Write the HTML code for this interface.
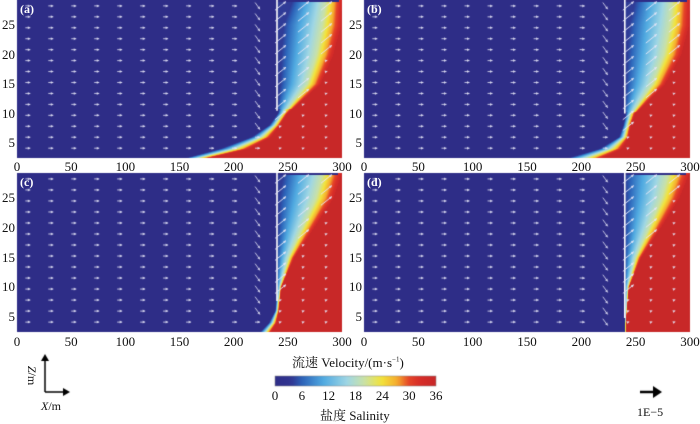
<!DOCTYPE html>
<html><head><meta charset="utf-8">
<style>
body{margin:0;background:#fff;width:700px;height:421px;overflow:hidden;position:relative;font-family:"Liberation Serif","Noto Serif CJK SC",serif;}
.t{position:absolute;font-size:12px;color:#111;white-space:nowrap;}
canvas{position:absolute;left:0;top:0;}
</style></head><body>
<canvas id="cv" width="700" height="421"></canvas>
<div id="labels"></div>
<script>
// ---- data ----
const panelNames=['a','b','c','d'];
const zLevelsAB=[2.5,4,6,8,10,15,20,25,29.5];
const freshA=[155,185,215,232,240,243,244,246,255];
const redA=[180,215,235,243,250,280,292,299,300];
const freshB=[186,215,234,238,240,241,242,244,250];
const redB=[221,238,244,246,250,277,292,299,300];
const zLevelsCD=[2.5,4,6,10,15,20,25,29.5];
const freshC=[224,232,238,240,240,241,242,246];
const redC=[235,240,242,244,256,274,292,300];
const freshD=[240,240,240,240,240,240,240,240];
const redD=[241,241,242,244,255,273,290,300];
const wallBottom=[10.5,10,7.7,4.8];
const xTicks=[0,50,100,150,200,250,300];
const yTicks=[5,10,15,20,25];
const cbTicks=[0,6,12,18,24,30,36];
// ---- layout ----
const panels=[
 {x0:17,x1:342,y0:0,y1:158,z:zLevelsAB,f:freshA,r:redA,lx:2},
 {x0:364,x1:690,y0:0,y1:158,z:zLevelsAB,f:freshB,r:redB,lx:349},
 {x0:17,x1:342,y0:173,y1:332,z:zLevelsCD,f:freshC,r:redC,lx:2},
 {x0:364,x1:690,y0:173,y1:332,z:zLevelsCD,f:freshD,r:redD,lx:349}];
const zMin=2.45,zMax=29.3;
const cmap=[[0,[46,45,135]],[0.1,[48,52,145]],[0.17,[45,100,185]],[0.3,[80,170,225]],[0.45,[160,215,228]],[0.55,[200,225,170]],[0.66,[242,228,60]],[0.76,[245,170,45]],[0.83,[230,70,40]],[0.9,[215,45,40]],[1,[200,40,40]]];
function col(s){const t=Math.max(0,Math.min(1,s/36));for(let i=1;i<cmap.length;i++){if(t<=cmap[i][0]){const a=cmap[i-1],b=cmap[i],u=(t-a[0])/(b[0]-a[0]);return a[1].map((v,k)=>Math.round(v+(b[1][k]-v)*u));}}return cmap[cmap.length-1][1];}
function interp(zs,vs,z){if(z<=zs[0])return vs[0];for(let i=1;i<zs.length;i++){if(z<=zs[i]){const u=(z-zs[i-1])/(zs[i]-zs[i-1]);return vs[i-1]+(vs[i]-vs[i-1])*u;}}return vs[vs.length-1];}
function sal(p,pi,x,z){const xf=interp(p.z,p.f,z),xr=interp(p.z,p.r,z);
 if(x>=xr)return 36;
 if(z>29.0&&x<xr-3)return 0;
 const upper=x>=240.5&&z>wallBottom[pi]+0.3;
 if(x<=xf)return upper?4:0;
 const t=(x-xf)/(xr-xf);
 if(upper){return t<0.68?4+t/0.68*16:20+(t-0.68)/0.32*14;}
 return 36*t;}
const cv=document.getElementById('cv'),ctx=cv.getContext('2d');
const img=ctx.createImageData(700,421);
for(let i=0;i<img.data.length;i+=4){img.data[i]=img.data[i+1]=img.data[i+2]=255;img.data[i+3]=255;}
panels.forEach((p,pi)=>{
 for(let py=p.y0;py<p.y1;py++){const z=zMax-(py+0.5-p.y0)/(p.y1-p.y0)*(zMax-zMin);
  for(let px=p.x0;px<p.x1;px++){const x=(px+0.5-p.x0)/(p.x1-p.x0)*300;
   const c=col(sal(p,pi,x,z));const k=(py*700+px)*4;img.data[k]=c[0];img.data[k+1]=c[1];img.data[k+2]=c[2];}}});
ctx.putImageData(img,0,0);
function X(p,x){return p.x0+x/300*(p.x1-p.x0);}
function Y(p,z){return p.y0+(zMax-z)/(zMax-zMin)*(p.y1-p.y0);}
panels.forEach((p,pi)=>{
 ctx.strokeStyle='#fff';ctx.lineWidth=1.6;ctx.beginPath();ctx.moveTo(X(p,240),p.y0);ctx.lineTo(X(p,240),Y(p,wallBottom[pi]));ctx.stroke();
 ctx.lineWidth=1;
 for(let i=0;i<14;i++){const x=10+21.2*i;
  for(let j=0;j<14;j++){const z=28.3-1.86*j;
   const s=sal(p,pi,x,z);let dx,dy,L,a=0.8;
   if(x<240){ if(x>200&&z>wallBottom[pi]-3){const q=(x-200)/40;dx=1-q*0.8;dy=q*1.4;L=5+6*q;} else {dx=1;dy=0;L=5;} }
   else if(s<30){dx=1;dy=-0.8;L=14;a=0.95;}
   else {dx=1;dy=-0.3;L=2;}
   ctx.strokeStyle='rgba(230,230,248,'+a+')';ctx.fillStyle='rgba(230,230,248,'+a+')';
   const n=Math.hypot(dx,dy);dx/=n;dy/=n;
   const ax=X(p,x),ay=Y(p,z);
   ctx.beginPath();ctx.moveTo(ax-dx*L/2,ay-dy*L/2);ctx.lineTo(ax+dx*L/2,ay+dy*L/2);ctx.stroke();
   ctx.beginPath();ctx.moveTo(ax+dx*L/2,ay+dy*L/2);ctx.lineTo(ax+dx*L/2-dx*2.5-dy*1.5,ay+dy*L/2-dy*2.5+dx*1.5);ctx.lineTo(ax+dx*L/2-dx*2.5+dy*1.5,ay+dy*L/2-dy*2.5-dx*1.5);ctx.fill();
  }}
});
const g=ctx.createLinearGradient(275,0,436,0);
for(let s=0;s<=36;s+=1){const c=col(s);g.addColorStop(s/36,'rgb('+c.join(',')+')');}
ctx.fillStyle=g;ctx.fillRect(275,376,161,10);ctx.strokeStyle='#888';ctx.lineWidth=0.5;ctx.strokeRect(275,376,161,10);
ctx.strokeStyle='#000';ctx.fillStyle='#000';ctx.lineWidth=1.5;
ctx.beginPath();ctx.moveTo(45,392);ctx.lineTo(45,358);ctx.moveTo(45,392);ctx.lineTo(66,392);ctx.stroke();
ctx.beginPath();ctx.moveTo(45,354);ctx.lineTo(41,361);ctx.lineTo(49,361);ctx.fill();
ctx.beginPath();ctx.moveTo(70,392);ctx.lineTo(63,388);ctx.lineTo(63,396);ctx.fill();
ctx.lineWidth=2.5;ctx.beginPath();ctx.moveTo(640,392);ctx.lineTo(654,392);ctx.stroke();
ctx.beginPath();ctx.moveTo(662,392);ctx.lineTo(653,386);ctx.lineTo(653,398);ctx.fill();
const L=document.getElementById('labels');
function lab(txt,x,y,name,extra){const d=document.createElement('div');d.className='t';d.textContent=txt;d.style.left=x+'px';d.style.top=y+'px';if(extra)d.style.cssText+=extra;


L.appendChild(d);return d;}
panels.forEach((p,pi)=>{
 xTicks.forEach(v=>{lab(String(v),X(p,v),(pi<2?159:334),'x-tick-label','transform:translateX(-50%);font-size:13px;');});
 yTicks.forEach(v=>{lab(String(v),p.lx,Y(p,v)-8,'y-tick-label','width:13px;text-align:right;font-size:13px;');});
 lab('('+panelNames[pi]+')',p.x0+3,p.y0+2,'panel-label-'+panelNames[pi],'color:#fff;font-weight:bold;font-size:12px;');
});
cbTicks.forEach((v,i)=>{lab(String(v),275+v/36*161,388,'colorbar-tick-label','transform:translateX(-50%);font-size:13px;');});
lab('流速 Velocity/(m·s',292,352,'velocity-title','font-size:13px;').innerHTML='流速 Velocity/(m·s<sup style="font-size:7px">−1</sup>)';
lab('盐度 Salinity',320,405,'salinity-title','font-size:13px;');
lab('Z/m',22,368,'z-axis-icon-label','transform:rotate(90deg);').innerHTML='<i>Z</i>/m';
lab('X/m',41,399,'x-axis-icon-label').innerHTML='<i>X</i>/m';
lab('1E−5',637,405,'velocity-scale-label');
</script>
</body></html>
